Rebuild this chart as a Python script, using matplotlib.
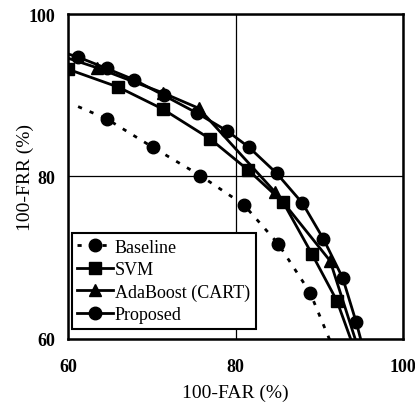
import matplotlib
matplotlib.use("Agg")
import matplotlib.pyplot as plt

plt.rcParams["font.family"] = ["Liberation Serif", "DejaVu Serif"]

# marker points (100-FAR, 100-FRR)
base_x = [64.6, 70.1, 75.8, 81.0, 85.1, 88.9]
base_y = [87.1, 83.6, 80.1, 76.5, 71.7, 65.7]
svm_x = [60.0, 66.0, 71.3, 77.0, 81.5, 85.7, 89.1, 92.1]
svm_y = [93.2, 91.0, 88.3, 84.6, 80.8, 76.8, 70.5, 64.7]
ada_x = [63.4, 71.3, 75.6, 84.7, 91.3]
ada_y = [93.4, 90.3, 88.4, 78.1, 69.6]
prop_x = [61.2, 64.6, 67.9, 71.4, 75.4, 79.0, 81.6, 84.9, 88.0, 90.5, 92.8, 94.4]
prop_y = [94.7, 93.3, 91.9, 90.0, 87.8, 85.6, 83.6, 80.4, 76.7, 72.3, 67.5, 62.1]

# where the curves leave the plot area
base_ends = [(61.2, 88.6), (91.6, 59.0)]
svm_ends = [(59.0, 93.6), (94.1, 59.0)]
ada_ends = [(59.0, 94.9), (94.6, 59.0)]
prop_ends = [(59.0, 95.4), (95.2, 59.0)]

series = [
    ("Baseline", base_x, base_y, base_ends, "o", (0, (1.5, 3.0))),
    ("SVM", svm_x, svm_y, svm_ends, "s", "-"),
    ("AdaBoost (CART)", ada_x, ada_y, ada_ends, "^", "-"),
    ("Proposed", prop_x, prop_y, prop_ends, "o", "-"),
]

fig = plt.figure(figsize=(4.15, 4.06), dpi=100)
ax = fig.add_axes([0.164, 0.163, 0.807, 0.800])

for name, xs, ys, ends, mk, ls in series:
    lx = [ends[0][0]] + xs + [ends[1][0]]
    ly = [ends[0][1]] + ys + [ends[1][1]]
    ax.plot(lx, ly, color="black", linestyle=ls, linewidth=2.0,
            marker=mk, markersize=9, markevery=list(range(1, len(lx) - 1)),
            label=name)

ax.set_xlim(60, 100)
ax.set_ylim(60, 100)
ax.set_xticks([60, 80, 100])
ax.set_yticks([60, 80, 100])
ax.tick_params(length=0, labelsize=13, pad=14)
ax.tick_params(axis="y", pad=9)
for lab in ax.get_xticklabels() + ax.get_yticklabels():
    lab.set_fontweight("bold")
ax.grid(True, color="black", linewidth=0.9)
for sp in ax.spines.values():
    sp.set_linewidth(1.8)

ax.set_xlabel("100-FAR (%)", fontsize=14, labelpad=6)
ax.set_ylabel("100-FRR (%)", fontsize=14, labelpad=-4)

leg = ax.legend(loc="lower left", fontsize=13, handlelength=2.0,
                handletextpad=0.1, borderpad=0.3, labelspacing=0.3,
                borderaxespad=0.2, fancybox=False, framealpha=1,
                edgecolor="black", bbox_to_anchor=(0.0, 0.02))
leg.get_frame().set_linewidth(1.5)

fig.savefig("out.png", dpi=100)
